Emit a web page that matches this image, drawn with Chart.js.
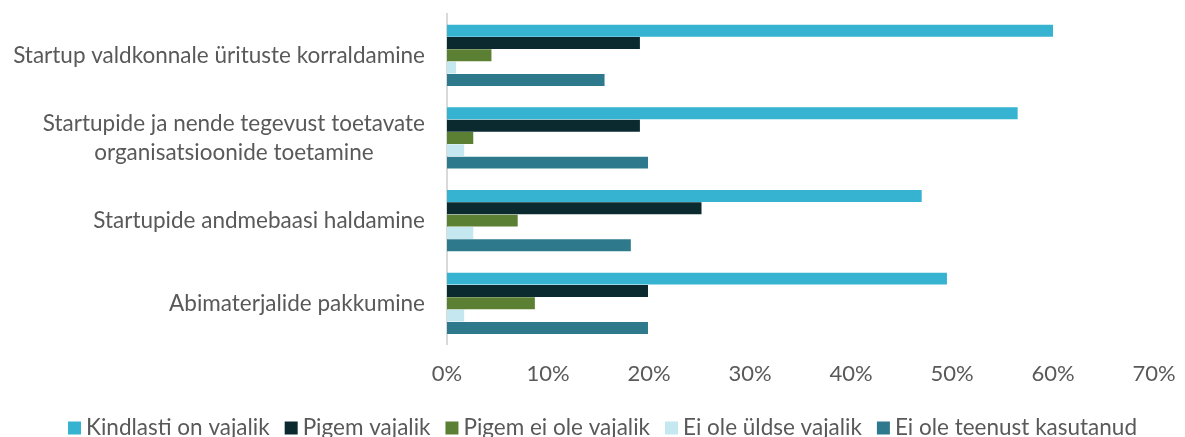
<!DOCTYPE html>
<html>
<head>
<meta charset="utf-8">
<script src="https://cdn.jsdelivr.net/npm/chart.js@4"></script>
<style>
  html, body { margin: 0; padding: 0; background: #fff; }
  #wrap { width: 1185px; height: 437px; }
</style>
</head>
<body>
<div id="wrap"><canvas id="chart" width="1185" height="437"></canvas></div>
<script>
// categories (top to bottom)
const categories = [
    'Startup valdkonnale ürituste korraldamine',
    ['Startupide ja nende tegevust toetavate', 'organisatsioonide toetamine'],
    'Startupide andmebaasi haldamine',
    'Abimaterjalide pakkumine'
];

// series values, %
const kindlastiVajalik = [60.0, 56.5, 47.0, 49.5];
const pigemVajalik = [19.1, 19.1, 25.2, 19.9];
const pigemEiOleVajalik = [4.4, 2.6, 7.0, 8.7];
const eiOleYldseVajalik = [0.9, 1.7, 2.6, 1.7];
const eiOleTeenustKasutanud = [15.6, 19.9, 18.2, 19.9];

const seriesNames = ['Kindlasti on vajalik', 'Pigem vajalik', 'Pigem ei ole vajalik', 'Ei ole üldse vajalik', 'Ei ole teenust kasutanud'];
const seriesColors = ['#35b3d1', '#0b2a30', '#5b8034', '#c5e8f0', '#2e7a8c'];

const xMax = 70;
const xStep = 10;

const FONT = 'Lato, "Open Sans", sans-serif';
const TEXT = '#595959';

// Category labels drawn like Excel: block right-aligned, lines centered within block
const catLabels = {
    id: 'catLabels',
    afterDraw(chart) {
        const ctx = chart.ctx;
        const scale = chart.scales.y;
        const right = 425;
        const lineH = 29;
        ctx.save();
        ctx.font = '22.5px ' + FONT;
        ctx.fillStyle = TEXT;
        ctx.textBaseline = 'middle';
        ctx.textAlign = 'center';
        chart.data.labels.forEach((lab, i) => {
            const lines = Array.isArray(lab) ? lab : [lab];
            const w = Math.max(...lines.map(l => ctx.measureText(l).width));
            const cx = right - w / 2;
            const y0 = scale.getPixelForTick(i) - (lines.length - 1) * lineH / 2;
            lines.forEach((l, j) => ctx.fillText(l, cx, y0 + j * lineH));
        });
        ctx.restore();
    }
};

// Legend row at the very bottom, centered, from the datasets
const bottomLegend = {
    id: 'bottomLegend',
    afterDraw(chart) {
        const ctx = chart.ctx;
        const y = 428;
        const box = 13, boxGap = 5, itemGap = 15;
        ctx.save();
        ctx.font = '22.5px ' + FONT;
        ctx.textBaseline = 'middle';
        const items = chart.data.datasets.map(ds => ({ text: ds.label, color: ds.backgroundColor, w: ctx.measureText(ds.label).width }));
        const total = items.reduce((s, it) => s + box + boxGap + it.w, 0) + itemGap * (items.length - 1);
        let x = 602.5 - total / 2;
        items.forEach(it => {
            ctx.fillStyle = it.color;
            ctx.fillRect(x, y - box / 2, box, box);
            x += box + boxGap;
            ctx.fillStyle = TEXT;
            ctx.fillText(it.text, x, y);
            x += it.w + itemGap;
        });
        ctx.restore();
    }
};

const data = [kindlastiVajalik, pigemVajalik, pigemEiOleVajalik, eiOleYldseVajalik, eiOleTeenustKasutanud];

new Chart(document.getElementById('chart'), {
    type: 'bar',
    data: {
        labels: categories,
        datasets: data.map((d, i) => ({
            label: seriesNames[i],
            data: d,
            backgroundColor: seriesColors[i],
            borderWidth: 0,
            categoryPercentage: 0.745,
            barPercentage: 0.97
        }))
    },
    options: {
        indexAxis: 'y',
        responsive: false,
        animation: false,
        layout: { padding: { top: 14, right: 31, bottom: 34, left: 0 } },
        plugins: {
            legend: { display: false },
            tooltip: { enabled: false }
        },
        scales: {
            x: {
                min: 0,
                max: xMax,
                grid: { display: false, drawTicks: false },
                border: { display: false },
                ticks: {
                    stepSize: xStep,
                    color: TEXT,
                    font: { family: FONT, size: 22 },
                    padding: 16,
                    callback: v => v + '%'
                },
                afterFit(scale) { scale.paddingRight = 0; scale.paddingLeft = 0; }
            },
            y: {
                grid: { display: false, drawTicks: false },
                border: { display: true, color: '#d9d9d9', width: 2 },
                ticks: { display: false },
                afterFit(scale) { scale.width = 447; }
            }
        }
    },
    plugins: [catLabels, bottomLegend]
});
</script>
</body>
</html>
